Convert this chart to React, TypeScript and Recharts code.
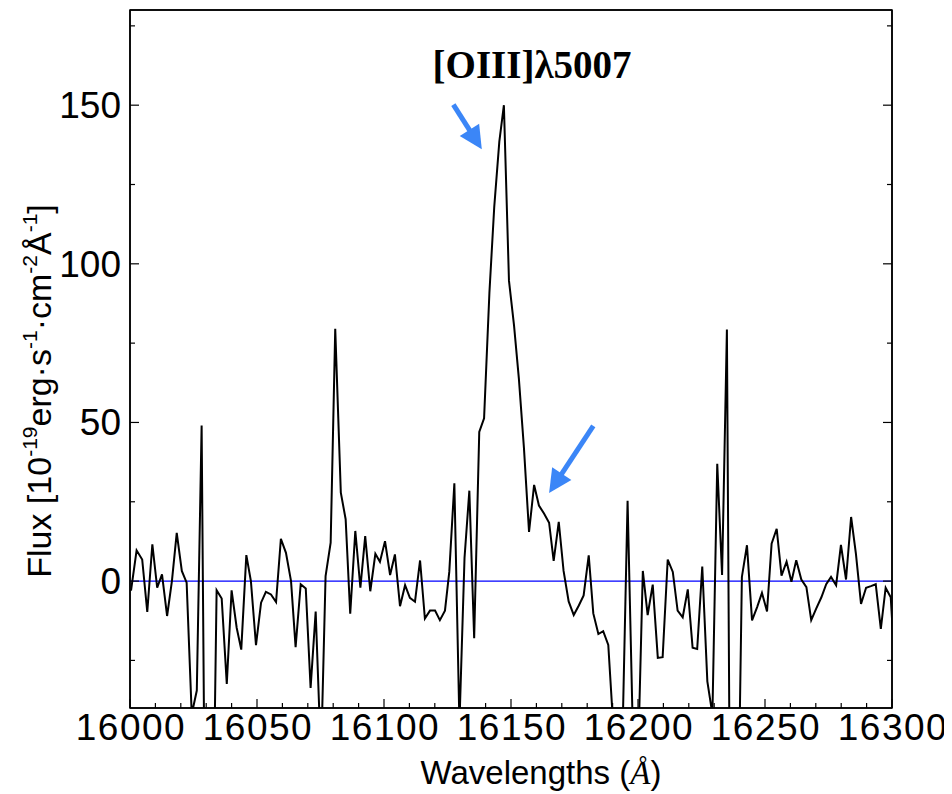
import React from 'react';
import {
  LineChart,
  Line,
  XAxis,
  YAxis,
  ReferenceLine,
  ReferenceDot,
  ReferenceArea
} from 'recharts';

// wavelengths (Angstrom) and flux (1e-19 erg/s/cm2/A)
const wavelengths = [
  16000.4, 16002.6, 16004.8, 16006.8, 16008.8, 16010.7, 16012.6, 16014.6, 16016.5, 16018.4,
  16020.4, 16022.3, 16024.3, 16026.3, 16028.2, 16030.2, 16032.2, 16034.1, 16036.1, 16038.1,
  16040.0, 16042.0, 16043.8, 16045.8, 16047.6, 16049.6, 16051.6, 16053.5, 16055.5, 16057.5,
  16059.4, 16061.4, 16063.4, 16065.2, 16067.2, 16069.2, 16071.1, 16073.1, 16075.2, 16077.0,
  16079.0, 16080.8, 16083.0, 16084.9, 16086.7, 16088.7, 16090.7, 16092.6, 16094.6, 16096.6,
  16098.4, 16100.4, 16102.4, 16104.3, 16106.3, 16108.3, 16110.2, 16112.2, 16114.2, 16116.1,
  16118.1, 16120.1, 16122.0, 16124.0, 16125.7, 16127.7, 16129.7, 16131.7, 16133.6, 16135.5,
  16137.5, 16139.4, 16141.5, 16143.4, 16145.4, 16147.2, 16149.2, 16151.2, 16153.1, 16155.1,
  16157.1, 16159.1, 16161.0, 16163.0, 16165.0, 16166.8, 16168.8, 16170.7, 16172.7, 16174.7,
  16176.7, 16178.6, 16180.6, 16182.4, 16184.4, 16186.3, 16188.3, 16190.2, 16192.1, 16194.0,
  16195.9, 16197.9, 16199.9, 16201.9, 16203.8, 16205.8, 16207.8, 16209.7, 16211.7, 16213.7,
  16215.6, 16217.6, 16219.6, 16221.5, 16223.3, 16225.3, 16227.3, 16229.3, 16231.2, 16233.1,
  16235.0, 16237.0, 16239.0, 16240.9, 16242.9, 16244.9, 16246.9, 16248.8, 16250.8, 16252.6,
  16254.6, 16256.5, 16258.5, 16260.4, 16262.3, 16264.3, 16266.3, 16268.2, 16270.2, 16272.2,
  16274.1, 16276.0, 16278.0, 16279.9, 16281.9, 16283.9, 16285.8, 16287.8, 16289.8, 16291.7,
  16293.6, 16295.6, 16297.5, 16299.5, 16301.5
];

const flux = [
  -3, 9.7, 6.8, -9.7, 11.6, -2.1, 2.1, -11, 0, 15.2,
  3.2, -0.5, -42, -34.5, 49, -150, -110, -2.9, -5.5, -32.4,
  -2.9, -14.7, -21.6, 8.2, 0, -20.2, -6.8, -3.4, -4.2, -6.6,
  13.3, 8.9, 0, -20.8, -1, -2.3, -33.7, -9.6, -56, 1.6,
  12.1, 79.5, 27.9, 19.5, -10.3, 15.8, -2.1, 14.2, -3.2, 8.6,
  6.1, 12.6, 1.9, 8.4, -7.9, -1.3, -5.3, -6.5, 6.5, -11.8,
  -9.3, -9.3, -12.3, -9.3, 2.9, 30.8, -45, 7.3, 28.5, -18,
  47, 51.3, 90.9, 117.9, 138.5, 150, 94.7, 80.5, 63.8, 41.9,
  15.5, 30.3, 23.8, 21.3, 18.4, 6.4, 18.7, 3.2, -6.4, -10.7,
  -7.7, -4.5, 8.1, -10.2, -16.7, -15.8, -20.1, -45, -75, -45,
  25.3, -45, -60, 3.2, -10.7, -1.1, -24.2, -24, 6.8, 2.9,
  -9.3, -11.4, -2.6, -21, -21.4, 4.6, -31.6, -42, 37, 1.9,
  79.3, -180, -100, 1.3, 11.3, -12.4, -8.2, -3.7, -9.6, 11.8,
  16.5, 1.7, 6.1, -0.2, 6.6, 0.5, -1.9, -12.3, -8.6, -5.1,
  -1, 1.3, -1.3, 11.4, 0.5, 20.2, 8.6, -7.2, -2.1, -1.6,
  -1, -15.1, -2.1, -5.1, -32
];

const xTicks = [
  16000, 16010, 16020, 16030, 16040, 16050, 16060, 16070, 16080, 16090,
  16100, 16110, 16120, 16130, 16140, 16150, 16160, 16170, 16180, 16190,
  16200, 16210, 16220, 16230, 16240, 16250, 16260, 16270, 16280, 16290, 16300
];
const xLabelled = [16000, 16050, 16100, 16150, 16200, 16250, 16300];
const yTicks = [-25, 0, 25, 50, 75, 100, 125, 150, 175];
const yLabelled = [0, 50, 100, 150];

// annotation: arrows as [tail, tip] in data units, and the line label
const arrowTop = [{ x: 16127.3, y: 150.2 }, { x: 16138.5, y: 136.1 }];
const arrowWing = [{ x: 16182.4, y: 48.9 }, { x: 16165.0, y: 27.8 }];
const lineLabel = { x: 16158.3, y: 158.6, text: '[OIII]λ5007' };

const data = wavelengths.map((wl, i) => ({ wl, flux: flux[i] }));

const SANS = '"Liberation Sans", Arial, sans-serif';
const ARROW_BLUE = '#3b86f7';

const BottomTick = (p: any) => {
  const v = p.payload.value;
  const major = xLabelled.includes(v);
  return (
    <g>
      <line x1={p.x} x2={p.x} y1={p.y} y2={p.y - (major ? 9 : 5)} stroke="#000" strokeWidth={1.2} />
      {major && (
        <text x={p.x + 1} y={p.y + 32} textAnchor="middle" fontFamily={SANS} fontSize={37} letterSpacing={1.5} fill="#000">
          {v}
        </text>
      )}
    </g>
  );
};

const TopTick = (p: any) => {
  const major = xLabelled.includes(p.payload.value);
  return <line x1={p.x} x2={p.x} y1={p.y} y2={p.y + (major ? 9 : 5)} stroke="#000" strokeWidth={1.2} />;
};

const LeftTick = (p: any) => {
  const v = p.payload.value;
  const major = yLabelled.includes(v);
  return (
    <g>
      <line x1={p.x} x2={p.x + (major ? 9 : 5)} y1={p.y} y2={p.y} stroke="#000" strokeWidth={1.2} />
      {major && (
        <text x={p.x - 9} y={p.y + 13} textAnchor="end" fontFamily={SANS} fontSize={37} fill="#000">
          {v}
        </text>
      )}
    </g>
  );
};

const RightTick = (p: any) => {
  const major = yLabelled.includes(p.payload.value);
  return <line x1={p.x} x2={p.x - (major ? 9 : 5)} y1={p.y} y2={p.y} stroke="#000" strokeWidth={1.2} />;
};

const Arrow = (p: any) => {
  const { x1, y1, x2, y2 } = p;
  const dx = x2 - x1;
  const dy = y2 - y1;
  const len = Math.hypot(dx, dy);
  const ux = dx / len;
  const uy = dy / len;
  const head = 23;
  const half = 11.5;
  const bx = x2 - ux * head;
  const by = y2 - uy * head;
  return (
    <g>
      <line x1={x1} y1={y1} x2={bx + ux * 2} y2={by + uy * 2} stroke={ARROW_BLUE} strokeWidth={5} />
      <polygon
        points={`${x2},${y2} ${bx - uy * half},${by + ux * half} ${bx + uy * half},${by - ux * half}`}
        fill={ARROW_BLUE}
      />
    </g>
  );
};

const XTitle = () => (
  <text x={533} y={776} textAnchor="middle" fontFamily={SANS} fontSize={33} fill="#000">
    Wavelengths{' '}
    <tspan>(</tspan>
    <tspan fontFamily='"Liberation Serif", serif' fontStyle="italic">Å</tspan>
    <tspan>)</tspan>
  </text>
);

const YTitle = () => {
  const sup = { fontSize: 21, dy: -14 };
  const back = { dy: 14 };
  return (
    <text
      x={43}
      y={383}
      transform="rotate(-90, 43, 383)"
      textAnchor="middle"
      fontFamily={SANS}
      fontSize={34}
      fill="#000"
    >
      <tspan>Flux [10</tspan>
      <tspan {...sup}>-19</tspan>
      <tspan {...back}>erg·s</tspan>
      <tspan {...sup}>-1</tspan>
      <tspan {...back}>·cm</tspan>
      <tspan {...sup}>-2</tspan>
      <tspan {...back}>Å</tspan>
      <tspan {...sup}>-1</tspan>
      <tspan {...back}>]</tspan>
    </text>
  );
};

export default function App() {
  return (
    <div style={{ width: 944, height: 786 }}>
      <LineChart
        width={944}
        height={786}
        data={data}
        margin={{ top: 1, right: 59, left: 52, bottom: 46 }}
      >
        <XAxis
          dataKey="wl"
          type="number"
          domain={[16000, 16300]}
          allowDataOverflow
          ticks={xTicks}
          interval={0}
          tickSize={0}
          tickMargin={0}
          tickLine={false}
          tick={BottomTick}
          height={40}
          axisLine={{ stroke: '#000', strokeWidth: 1.5 }}
          label={{ content: XTitle }}
        />
        <XAxis
          xAxisId="top"
          orientation="top"
          type="number"
          domain={[16000, 16300]}
          allowDataOverflow
          ticks={xTicks}
          interval={0}
          tickSize={0}
          tickMargin={0}
          tickLine={false}
          tick={TopTick}
          height={1}
          axisLine={{ stroke: '#000', strokeWidth: 1.5 }}
        />
        <YAxis
          type="number"
          domain={[-40, 180]}
          allowDataOverflow
          ticks={yTicks}
          interval={0}
          tickSize={0}
          tickMargin={0}
          tickLine={false}
          tick={LeftTick}
          width={70}
          axisLine={{ stroke: '#000', strokeWidth: 1.5 }}
          label={{ content: YTitle }}
        />
        <YAxis
          yAxisId="right"
          orientation="right"
          type="number"
          domain={[-40, 180]}
          allowDataOverflow
          ticks={yTicks}
          interval={0}
          tickSize={0}
          tickMargin={0}
          tickLine={false}
          tick={RightTick}
          width={1}
          axisLine={{ stroke: '#000', strokeWidth: 1.5 }}
        />
        <ReferenceArea
          x1={16000}
          x2={16300}
          y1={-40}
          y2={180}
          fill="none"
          fillOpacity={0}
          stroke="#000"
          strokeWidth={1.5}
          ifOverflow="visible"
        />
        <ReferenceLine y={0} stroke="#0000ff" strokeWidth={1.2} />
        <Line
          type="linear"
          dataKey="flux"
          stroke="#000"
          strokeWidth={2}
          dot={false}
          activeDot={false}
          isAnimationActive={false}
        />
        <ReferenceLine segment={arrowTop} shape={Arrow} ifOverflow="visible" />
        <ReferenceLine segment={arrowWing} shape={Arrow} ifOverflow="visible" />
        <ReferenceDot
          x={lineLabel.x}
          y={lineLabel.y}
          ifOverflow="visible"
          shape={(p: any) => (
            <text
              x={p.cx}
              y={p.cy}
              textAnchor="middle"
              fontFamily='"Liberation Serif", "DejaVu Serif", serif'
              fontWeight="bold"
              fontSize={39}
              fill="#000"
            >
              {lineLabel.text}
            </text>
          )}
        />
      </LineChart>
    </div>
  );
}
